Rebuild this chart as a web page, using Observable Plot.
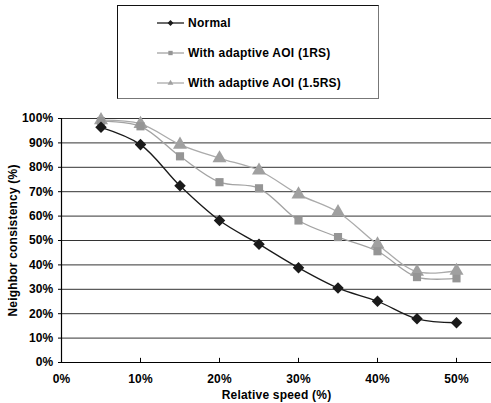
<!DOCTYPE html>
<html>
<head>
<meta charset="utf-8">
<script src="https://cdn.jsdelivr.net/npm/d3@7"></script>
<script src="https://cdn.jsdelivr.net/npm/@observablehq/plot@0.6"></script>
<style>
  html, body { margin: 0; padding: 0; background: #fff; }
  #wrap { width: 491px; height: 403px; position: relative; overflow: hidden; font-family: "Liberation Sans", Arial, sans-serif; }
  #legend { position: relative; width: 491px; height: 105px; }
  #box { position: absolute; left: 117px; top: 5px; width: 262px; height: 94px; box-sizing: border-box;
         border-top: 1px solid #111; border-left: 1px solid #111; border-right: 1px solid #777; border-bottom: 1px solid #777; }
  .row { position: absolute; left: 39px; height: 16px; display: flex; align-items: center; font-weight: bold; font-size: 12px; letter-spacing: 0.25px; color: #000; white-space: nowrap; }
  .row svg { margin-right: 4px; }
  #chart svg text { letter-spacing: 0.2px; }
</style>
</head>
<body>
<div id="wrap">
  <div id="legend"><div id="box"></div></div>
  <div id="chart"></div>
</div>
<script>
const speeds = [5, 10, 15, 20, 25, 30, 35, 40, 45, 50];
const normal = [96.4, 89.3, 72.4, 58.2, 48.5, 38.8, 30.5, 25.1, 17.9, 16.3];
const aoi1RS = [98.9, 96.8, 84.5, 73.9, 71.4, 58.2, 51.4, 45.6, 35.0, 34.5];
const aoi15RS = [99.3, 97.8, 89.3, 83.7, 78.7, 68.9, 61.6, 48.4, 37.2, 37.6];
const seriesNames = ["Normal", "With adaptive AOI (1RS)", "With adaptive AOI (1.5RS)"];
const xTicks = [0, 10, 20, 30, 40, 50];
const yTicks = [0, 10, 20, 30, 40, 50, 60, 70, 80, 90, 100];

const seriesStyle = [
  {values: normal, stroke: "#1a1a1a", fill: "#1a1a1a", symbol: "diamond2", r: 5.2},
  {values: aoi1RS, stroke: "#a3a3a3", fill: "#959595", symbol: "square", r: 4.6},
  {values: aoi15RS, stroke: "#ababab", fill: "#a0a0a0", symbol: "triangle", r: 5.2}
];

// legend
const box = document.getElementById("box");
seriesNames.forEach((name, i) => {
  const s = seriesStyle[i];
  const row = document.createElement("div");
  row.className = "row";
  row.style.top = (9 + i * 30) + "px";
  const sym = d3.create("svg").attr("width", 27).attr("height", 16);
  sym.append("line").attr("x1", 0).attr("x2", 27).attr("y1", 8).attr("y2", 8).attr("stroke", s.stroke).attr("stroke-width", 1.3);
  const symType = {diamond2: d3.symbolDiamond2, square: d3.symbolSquare2, triangle: d3.symbolTriangle2}[s.symbol];
  sym.append("path").attr("transform", "translate(13.5,8)").attr("d", d3.symbol(symType, s.symbol === "diamond2" ? 22 : 24)()).attr("fill", s.fill);
  row.appendChild(sym.node());
  const t = document.createElement("span");
  t.textContent = name;
  row.appendChild(t);
  box.appendChild(row);
});

const data = [];
seriesStyle.forEach((s, i) => speeds.forEach((x, j) => data.push({series: seriesNames[i], x, y: s.values[j]})));

const lineMarks = [];
seriesStyle.forEach((s, i) => {
  const d = data.filter(e => e.series === seriesNames[i]);
  lineMarks.push(Plot.line(d, {x: "x", y: "y", stroke: s.stroke, strokeWidth: 1.3, curve: "catmull-rom"}));
});
// draw markers: gray series first, then normal on top
[2, 1, 0].forEach(i => {
  const s = seriesStyle[i];
  const d = data.filter(e => e.series === seriesNames[i]);
  lineMarks.push(Plot.dot(d, {x: "x", y: "y", symbol: s.symbol, r: s.r, fill: s.fill, stroke: "none"}));
});

const chart = Plot.plot({
  width: 491,
  height: 298,
  marginLeft: 61,
  marginRight: 0,
  marginTop: 13,
  marginBottom: 41,
  x: {domain: [0, 54.43]},
  y: {domain: [0, 100]},
  style: {fontFamily: "'Liberation Sans', Arial, sans-serif", fontWeight: "bold", fontSize: "12px", color: "#000", background: "#fff", overflow: "visible"},
  marks: [
    Plot.ruleY(yTicks.filter(d => d > 0), {stroke: "#333", strokeWidth: 1}),
    Plot.axisY({ticks: yTicks, tickFormat: d => d + "%", tickSize: 3, tickPadding: 5, label: "Neighbor consistency (%)", labelAnchor: "center", labelOffset: 53, labelArrow: "none"}),
    Plot.axisX({ticks: xTicks, tickFormat: d => d + "%", tickSize: 0, tickPadding: 12, label: "Relative speed (%)", labelAnchor: "center", labelOffset: 36, labelArrow: "none"}),
    Plot.ruleX(xTicks.filter(d => d > 0), {y1: 0, y2: 1.7, stroke: "#000"}),
    Plot.ruleX([0], {stroke: "#000", strokeWidth: 1.2}),
    Plot.ruleY([0], {stroke: "#000", strokeWidth: 1.2}),
    ...lineMarks
  ]
});
document.getElementById("chart").appendChild(chart);
</script>
</body>
</html>
